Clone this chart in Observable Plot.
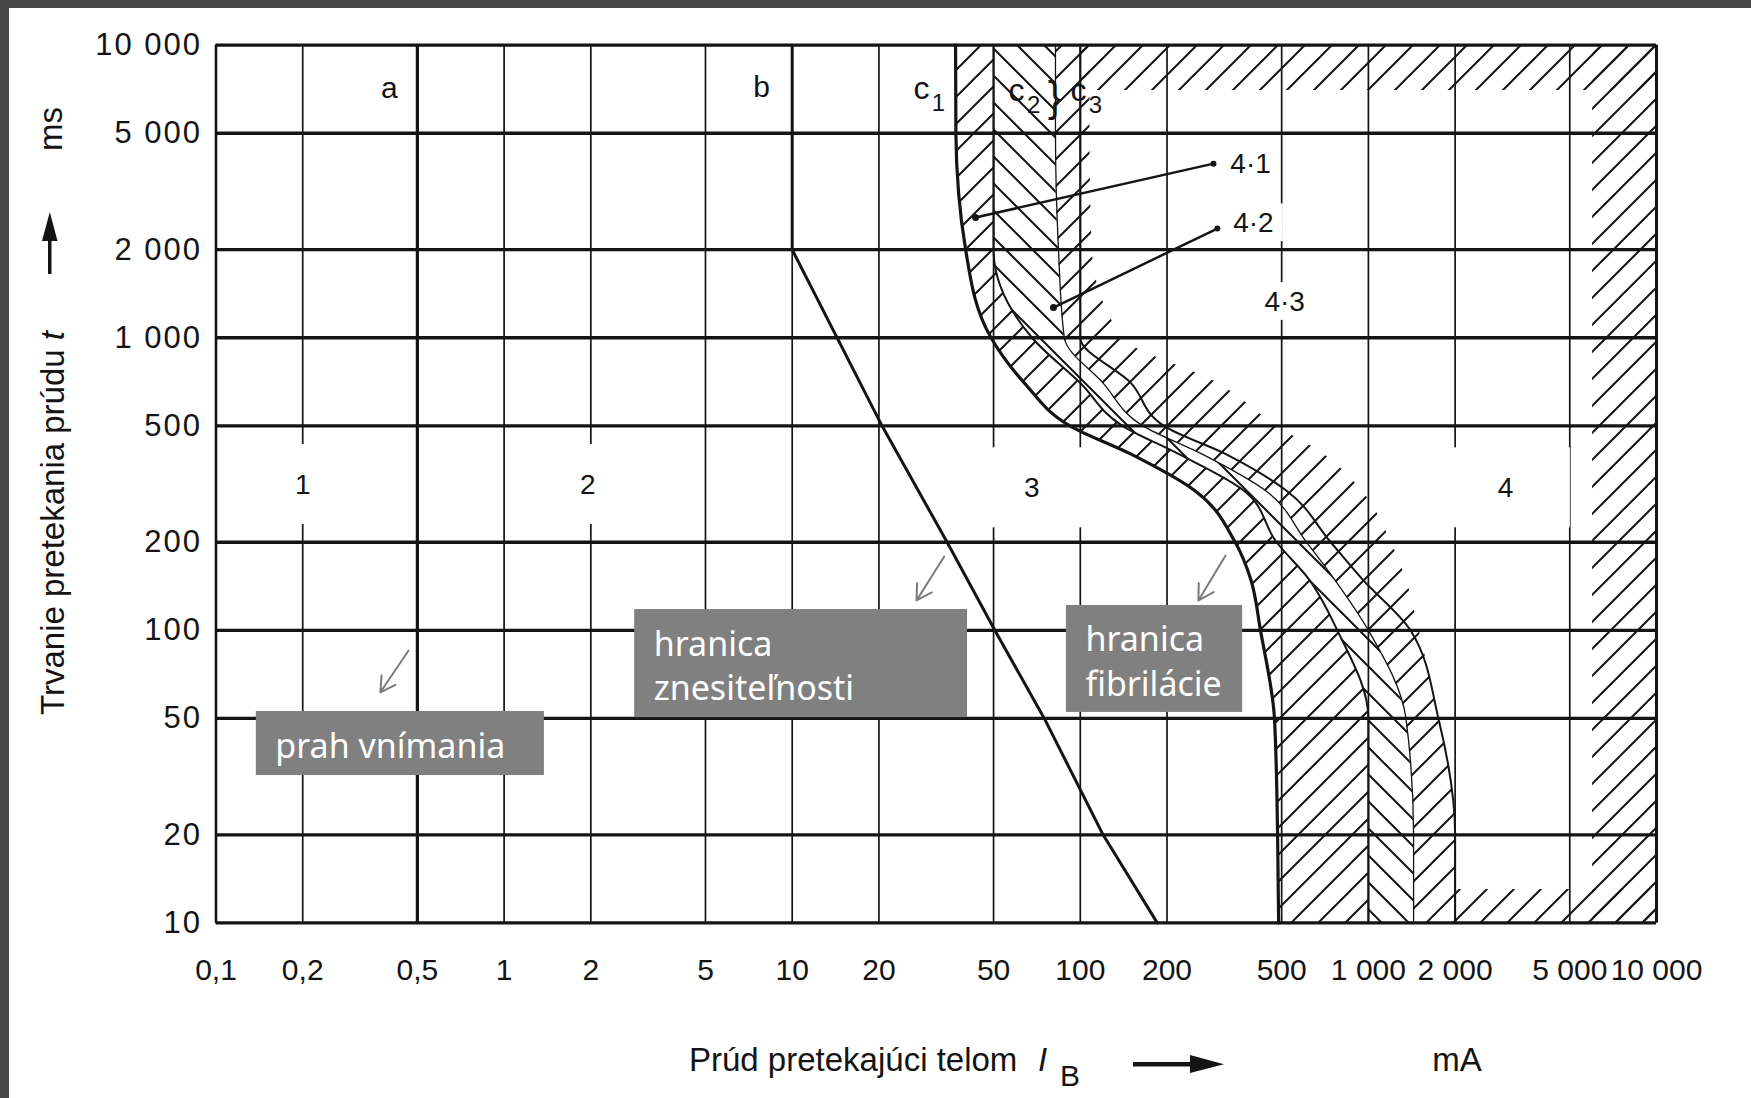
<!DOCTYPE html>
<html><head><meta charset="utf-8">
<script src="https://cdn.jsdelivr.net/npm/d3@7"></script>
<script src="https://cdn.jsdelivr.net/npm/@observablehq/plot@0.6"></script>
<style>
html,body{margin:0;padding:0;background:#fff;overflow:hidden;}
#wrap{position:relative;width:1751px;height:1098px;}
#wrap svg{position:absolute;left:0;top:0;}
.strip{position:absolute;background:#454545;}
</style></head><body>
<div id="wrap"></div>
<script>
// ---- axis ticks ----
const xTicks = [0.1,0.2,0.5,1,2,5,10,20,50,100,200,500,1000,2000,5000,10000];
const xTickLabels = ["0,1","0,2","0,5","1","2","5","10","20","50","100","200","500","1 000","2 000","5 000","10 000"];
const yTicks = [10,20,50,100,200,500,1000,2000,5000,10000];
const yTickLabels = ["10","20","50","100","200","500","1 000","2 000","5 000","10 000"];

// ---- boundary curves (current in mA at each duration in ms) ----
const times    = [10000,5000,2000,1000,700,500,400,300,200,150,100,50,20,10];
const curveC1  = [36.9,37,40,49,64,92,150,250,345,390,422,472,484,488];
const curveC2  = [50,50,50,68,100,140,220,370,480,620,780,1000,1000,1000];
const curveDiv = [82,82,84,88,120,165,265,440,610,760,1000,1350,1435,1435];
const curveC3  = [100,100,100,100,150,195,320,520,740,950,1400,1750,2000,2000];
const curveC4  = [108,108,110,140,300,480,700,950,1200,1350,1500,1750,2000,2000];

// line a and curve b
const lineA = 0.5;
const bCurrent = [10,10,20.5,34.5,50.5,75,120,185];
const bTime    = [10000,2000,500,200,100,50,20,10];

// hatched border bands of zone 4
const bandX1 = [100,6000,2000];
const bandX2 = [10000,10000,10000];
const bandT1 = [7000,10,10];
const bandT2 = [10000,10000,13];

// labels
const zoneText = ["1","2","3","4"];
const zoneX = [0.2,1.95,67.8,2990];
const zoneT = [315,315,307,307];
const subZoneText = ["4·1","4·2","4·3"];
const subZoneX = [390,399,512];
const subZoneT = [3936,2472,1330];
const lineText = ["a","b"];
const lineX = [0.4,7.83];
const lineT = [7100,7160];
const curveLabelText = ["c","c","c"];
const curveLabelSub = ["1","2","3"];
const curveLabelX = [28.1,60.1,98.6];
const curveLabelT = [7100,7000,7000];
const braceX = [81.5];
const braceT = [6620];

// leader lines for 4·1 and 4·2
const leaderX1 = [43.3,80.7];
const leaderT1 = [2577,1268];
const leaderX2 = [290,299];
const leaderT2 = [3937,2363];

// grey annotation boxes
const noteText = ["prah vnímania","hranica\nznesiteľnosti","hranica\nfibrilácie"];
const noteX1 = [0.138,2.84,89.5];
const noteX2 = [1.38,40.6,366];
const noteT1 = [31.9,50.3,52.4];
const noteT2 = [52.8,117.8,121.6];
const arrowX1 = [0.466,33.7,319];
const arrowT1 = [85.3,178.8,180];
const arrowX2 = [0.372,27,257];
const arrowT2 = [61.4,126.5,126.5];

// ---- build tables ----
const rows = times.map((t,i)=>({t, c1:curveC1[i], c2:curveC2[i], dv:curveDiv[i], c3:curveC3[i], c4:curveC4[i]}));
const bRows = bTime.map((t,i)=>({t, x:bCurrent[i]}));
const bands = bandX1.map((x1,i)=>({x1, x2:bandX2[i], t1:bandT1[i], t2:bandT2[i]}));
const zones = zoneText.map((s,i)=>({s, x:zoneX[i], t:zoneT[i]}));
const subZones = subZoneText.map((s,i)=>({s, x:subZoneX[i], t:subZoneT[i]}));
const lineLabels = lineText.map((s,i)=>({s, x:lineX[i], t:lineT[i]}));
const cLabels = curveLabelText.map((s,i)=>({s, sub:curveLabelSub[i], x:curveLabelX[i], t:curveLabelT[i]}));
const braces = braceX.map((x,i)=>({x, t:braceT[i]}));
const leaders = leaderX1.map((x1,i)=>({x1, t1:leaderT1[i], x2:leaderX2[i], t2:leaderT2[i]}));
const notes = noteText.map((s,i)=>({s, x1:noteX1[i], x2:noteX2[i], t1:noteT1[i], t2:noteT2[i],
  ax1:arrowX1[i], at1:arrowT1[i], ax2:arrowX2[i], at2:arrowT2[i]}));

// style constants
const INK = "#141414";
const FONT = "'Liberation Sans', Arial, sans-serif";
const zonePadX = 1.68, zonePadY = 1.37;   // white box around zone numbers
const subPadX = 1.27, subPadY = 1.16;

function defsMark() {
  const defs = d3.create("svg:defs");
  const s = 27;
  const up = defs.append("pattern").attr("id","hatchUp").attr("patternUnits","userSpaceOnUse")
    .attr("width",s).attr("height",s);
  up.append("path").attr("d",`M0,${s} L${s},0 M${-s/4},${s/4} L${s/4},${-s/4} M${s*3/4},${s*5/4} L${s*5/4},${s*3/4}`)
    .attr("stroke",INK).attr("stroke-width",2).attr("fill","none");
  const dn = defs.append("pattern").attr("id","hatchDown").attr("patternUnits","userSpaceOnUse")
    .attr("width",s).attr("height",s);
  dn.append("path").attr("d",`M0,0 L${s},${s} M${-s/4},${s*3/4} L${s/4},${s*5/4} M${s*3/4},${-s/4} L${s*5/4},${s/4}`)
    .attr("stroke",INK).attr("stroke-width",2).attr("fill","none");
  return defs.node();
}

const plot = Plot.plot({
  width: 1751, height: 1098,
  marginLeft: 215.5, marginRight: 95, marginTop: 44.7, marginBottom: 175.6,
  style: {fontFamily: FONT, fontSize: "30px", color: INK, background: "transparent", overflow: "visible"},
  x: {type: "log", domain: [0.1, 10000], axis: null},
  y: {type: "log", domain: [10, 10000], axis: null},
  marks: [
    defsMark,
    // hatched zones
    Plot.rect(bands, {x1: "x1", x2: "x2", y1: "t1", y2: "t2", fill: "url(#hatchUp)"}),
    Plot.areaX(rows, {y: "t", x1: "c3", x2: "c4", fill: "url(#hatchUp)", curve: "monotone-y"}),
    Plot.areaX(rows, {y: "t", x1: "c1", x2: "c2", fill: "url(#hatchUp)", curve: "monotone-y"}),
    Plot.areaX(rows, {y: "t", x1: "c2", x2: "dv", fill: "url(#hatchDown)", curve: "monotone-y"}),
    Plot.areaX(rows, {y: "t", x1: "dv", x2: "c3", fill: "url(#hatchUp)", curve: "monotone-y"}),
    // grid
    Plot.ruleX(xTicks, {stroke: INK, strokeWidth: 1.7}),
    Plot.ruleX([xTicks[0]], {stroke: INK, strokeWidth: 2.6}),
    Plot.ruleX([xTicks[xTicks.length-1]], {stroke: INK, strokeWidth: 3}),
    Plot.ruleY(yTicks, {stroke: INK, strokeWidth: 3.3}),
    // white boxes behind zone labels (break the vertical grid)
    Plot.rect(zones, {x1: d => d.x/zonePadX, x2: d => d.x*zonePadX, y1: d => d.t/zonePadY, y2: d => d.t*zonePadY, fill: "white"}),
    Plot.rect(subZones, {x1: d => d.x/subPadX, x2: d => d.x*subPadX, y1: d => d.t/subPadY, y2: d => d.t*subPadY, fill: "white"}),
    // line a, curve b
    Plot.ruleX([lineA], {stroke: INK, strokeWidth: 3.2}),
    Plot.line(bRows, {x: "x", y: "t", stroke: INK, strokeWidth: 3}),
    // curves c1, c2, c3
    Plot.line(rows, {x: "c1", y: "t", stroke: INK, strokeWidth: 3.2, curve: "monotone-y"}),
    Plot.line(rows, {x: "c2", y: "t", stroke: INK, strokeWidth: 2, curve: "monotone-y"}),
    Plot.line(rows, {x: "dv", y: "t", stroke: INK, strokeWidth: 1.3, curve: "monotone-y"}),
    Plot.line(rows, {x: "c3", y: "t", stroke: INK, strokeWidth: 2, curve: "monotone-y"}),
    // leader lines
    Plot.link(leaders, {x1: "x1", y1: "t1", x2: "x2", y2: "t2", stroke: INK, strokeWidth: 2.5}),
    Plot.dot(leaders, {x: "x1", y: "t1", r: 3.5, fill: INK}),
    Plot.dot(leaders, {x: "x2", y: "t2", r: 3, fill: INK}),
    // labels
    Plot.text(zones, {x: "x", y: "t", text: "s", fontSize: 28, fill: INK}),
    Plot.text(subZones, {x: "x", y: "t", text: "s", fontSize: 28, fill: INK}),
    Plot.text(lineLabels, {x: "x", y: "t", text: "s", fontSize: 30, fill: INK}),
    Plot.text(cLabels, {x: "x", y: "t", text: "s", fontSize: 32, fill: INK}),
    Plot.text(cLabels, {x: "x", y: "t", text: "sub", fontSize: 24, dx: 17, dy: 15, fill: INK}),
    Plot.text(braces, {x: "x", y: "t", text: () => "}", fontSize: 42, fontWeight: 300, fill: INK}),
    // tick labels
    Plot.text(xTicks, {x: d => d, text: d => xTickLabels[xTicks.indexOf(d)], frameAnchor: "bottom", dy: 57,
      fontSize: 30, fill: INK, ariaDescription: "x-tick-labels"}),
    Plot.text(yTicks, {y: d => d, text: d => yTickLabels[yTicks.indexOf(d)], frameAnchor: "left", textAnchor: "end", dx: -14,
      fontSize: 31, fill: INK, ariaDescription: "y-tick-labels"}),
    // grey annotation boxes
    Plot.rect(notes, {x1: "x1", x2: "x2", y1: "t1", y2: "t2", fill: "#808080"}),
    Plot.text(notes, {x: "x1", y: d => Math.sqrt(d.t1*d.t2), text: "s", textAnchor: "start", dx: 19, lineHeight: 1.32,
      fill: "white", fontSize: 34, fontFamily: "'Noto Sans', 'Open Sans', sans-serif"}),
    Plot.arrow(notes, {x1: "ax1", y1: "at1", x2: "ax2", y2: "at2", stroke: "#7a7a7a", strokeWidth: 2, headLength: 14})
  ]
});

const svgSel = d3.select(plot);
svgSel.selectAll('g[aria-description="y-tick-labels"] text').style("letter-spacing", "2px");

// axis titles (page coordinates)
const yt = svgSel.append("g").attr("transform", "translate(64,715) rotate(-90)")
  .attr("fill", INK).attr("text-anchor", "start").style("font-family", FONT).style("font-size", "33px");
const ytext = yt.append("text").attr("x", 0).attr("y", 0);
ytext.append("tspan").text("Trvanie pretekania prúdu ");
ytext.append("tspan").attr("font-style", "italic").text("t");
yt.append("rect").attr("x", 441).attr("y", -16).attr("width", 38).attr("height", 3.5);
yt.append("path").attr("d", "M474,-22 L503,-14.2 L474,-6.5 Z");
yt.append("text").attr("x", 564).attr("y", -2).text("ms");

const xt = svgSel.append("g").attr("fill", INK).attr("text-anchor", "start").style("font-family", FONT).style("font-size", "33px");
xt.append("text").attr("x", 689).attr("y", 1071).text("Prúd pretekajúci telom");
xt.append("text").attr("x", 1038).attr("y", 1071).attr("font-style", "italic").text("I");
xt.append("text").attr("x", 1060).attr("y", 1086).style("font-size", "30px").text("B");
xt.append("rect").attr("x", 1133).attr("y", 1062).attr("width", 62).attr("height", 4.5);
xt.append("path").attr("d", "M1190,1055 L1224,1064.2 L1190,1073 Z");
xt.append("text").attr("x", 1457).attr("y", 1071).attr("text-anchor", "middle").text("mA");

const wrapEl = document.getElementById("wrap");
wrapEl.appendChild(plot);
const stripTop = document.createElement("div"); stripTop.className = "strip";
stripTop.style.cssText = "left:0;top:0;width:1751px;height:8px;";
const stripLeft = document.createElement("div"); stripLeft.className = "strip";
stripLeft.style.cssText = "left:0;top:0;width:9px;height:1098px;";
wrapEl.appendChild(stripTop); wrapEl.appendChild(stripLeft);
</script>
</body></html>
